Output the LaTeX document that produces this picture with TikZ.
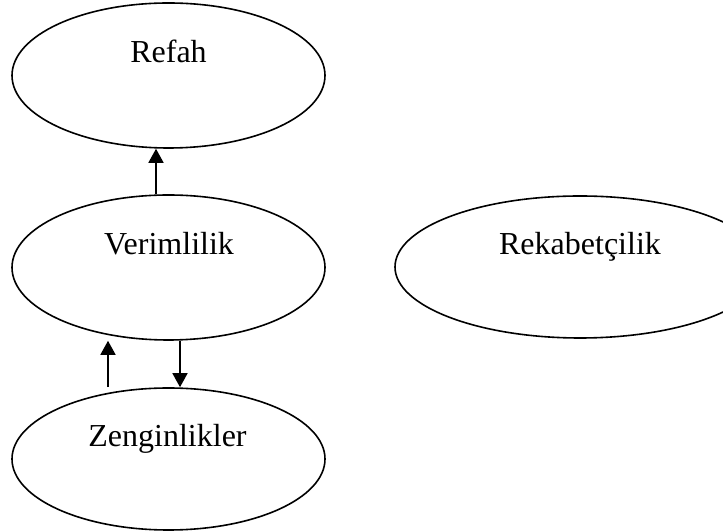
\documentclass[tikz,border=0pt]{standalone}
\usepackage{fontspec}
\setmainfont{Liberation Serif}
\usetikzlibrary{shapes.geometric,arrows.meta}
\begin{document}
\begin{tikzpicture}[x=1pt,y=1pt,
  ell/.style={draw=black,line width=1.6pt,ellipse,inner sep=0pt},
  lbl/.style={anchor=base,inner sep=0pt,font=\fontsize{32}{38}\selectfont},
  arr/.style={line width=1.6pt,-{Triangle[width=15pt,length=14pt]}}]
\useasboundingbox (0,0) rectangle (723,532);
\clip (0,0) rectangle (723,532);
\node[ell,minimum width=313pt,minimum height=145pt] (r) at (168.5,456.5) {};
\node[ell,minimum width=313pt,minimum height=145pt] (v) at (168.5,264.5) {};
\node[ell,minimum width=313pt,minimum height=142pt] (z) at (168.5,73) {};
\node[ell,minimum width=370pt,minimum height=142pt] (k) at (580,265) {};
\node[lbl] (rt) at (168.5,469) {Refah};
\node[lbl] (vt) at (169,277) {Verimlilik};
\node[lbl] (zt) at (167.5,85) {Zenginlikler};
\node[lbl] (kt) at (580,277) {Rekabetçilik};
\draw[arr] ([xshift=-12.5pt]v.north) -- ([xshift=-12.5pt]r.south);
\draw[arr] ([xshift=-60.5pt]z.north) -- ([xshift=-60.5pt]v.south);
\draw[arr] ([xshift=11.5pt]v.south) -- ([xshift=11.5pt]z.north);
\end{tikzpicture}
\end{document}
